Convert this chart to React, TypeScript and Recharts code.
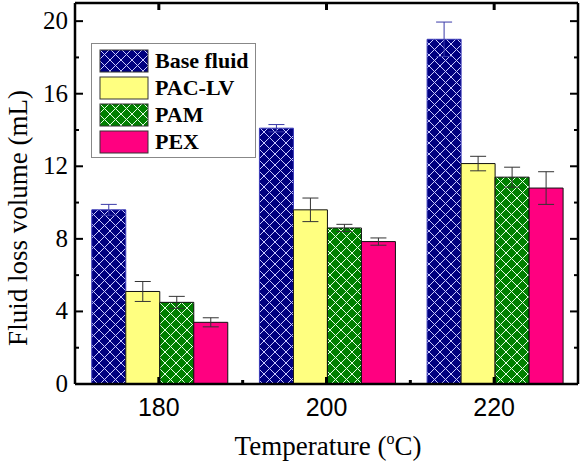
import { BarChart, Bar, Line, XAxis, YAxis, ErrorBar, Legend } from 'recharts';

const temperatures = ['180', '200', '220'];
const baseFluid = [9.6, 14.1, 19.0];
const baseFluidErr = [0.3, 0.2, 0.95];
const pacLv = [5.1, 9.6, 12.15];
const pacLvErr = [0.55, 0.65, 0.4];
const pam = [4.5, 8.6, 11.4];
const pamErr = [0.33, 0.2, 0.55];
const pex = [3.4, 7.85, 10.8];
const pexErr = [0.25, 0.2, 0.9];
const yTicks = [0, 2, 4, 6, 8, 10, 12, 14, 16, 18, 20];

const data = temperatures.map((t, i) => ({
  temp: t,
  base: baseFluid[i],
  baseErr: baseFluidErr[i],
  pac: pacLv[i],
  pacErr: pacLvErr[i],
  pam: pam[i],
  pamErr: pamErr[i],
  pex: pex[i],
  pexErr: pexErr[i],
}));

const SERIF = '"Liberation Serif", "Times New Roman", serif';
const SANS = '"Liberation Sans", Arial, sans-serif';

const series = [
  { key: 'base', name: 'Base fluid', fill: 'url(#hatchBlue)', stroke: '#3a3ab8', err: '#3a3aa8' },
  { key: 'pac', name: 'PAC-LV', fill: '#ffff80', stroke: '#111', err: '#333' },
  { key: 'pam', name: 'PAM', fill: 'url(#hatchGreen)', stroke: '#111', err: '#333' },
  { key: 'pex', name: 'PEX', fill: '#ff0080', stroke: '#111', err: '#333' },
];

// y ticks point inward, a label on every other one
const LeftTick = (props: any) => {
  const { x, y, payload } = props;
  const major = payload.value % 4 === 0;
  return (
    <g>
      <line x1={x} y1={y} x2={x + (major ? 8 : 4)} y2={y} stroke="#000" strokeWidth={2} />
      {major && (
        <text x={x - 7} y={y + 8} textAnchor="end" fontFamily={SERIF} fontSize={25} fill="#000">
          {payload.value}
        </text>
      )}
    </g>
  );
};

const RightTick = (props: any) => {
  const { x, y, payload } = props;
  const major = payload.value % 4 === 0;
  return <line x1={x} y1={y} x2={x - (major ? 8 : 4)} y2={y} stroke="#000" strokeWidth={2} />;
};

const BottomTick = (props: any) => {
  const { x, y, payload, index } = props;
  const off = payload.offset || 83.8;
  return (
    <g>
      <line x1={x} y1={y} x2={x} y2={y - 7} stroke="#000" strokeWidth={3} />
      {index < temperatures.length - 1 && (
        <line x1={x + off} y1={y} x2={x + off} y2={y - 4} stroke="#000" strokeWidth={3} />
      )}
      <text x={x} y={y + 32} textAnchor="middle" fontFamily={SANS} fontSize={25} fill="#000">
        {payload.value}
      </text>
    </g>
  );
};

const TopTick = (props: any) => {
  const { x, y } = props;
  return <line x1={x} y1={y} x2={x} y2={y + 7} stroke="#000" strokeWidth={3} />;
};

const LegendBox = () => (
  <div
    style={{
      width: 165,
      height: 115,
      border: '1px solid #888',
      background: '#fff',
      boxSizing: 'border-box',
      paddingTop: 3,
      paddingLeft: 7,
    }}
  >
    {series.map((s) => (
      <div key={s.key} style={{ display: 'flex', alignItems: 'center', height: 27 }}>
        <svg width={50} height={24} style={{ display: 'block' }}>
          <rect x={1} y={1} width={48} height={22} fill={s.fill} stroke="#333" strokeWidth={1} />
        </svg>
        <span
          style={{
            marginLeft: 6,
            fontFamily: SERIF,
            fontWeight: 'bold',
            fontSize: 22,
            color: '#000',
            lineHeight: '24px',
          }}
        >
          {s.name}
        </span>
      </div>
    ))}
  </div>
);

export default function App() {
  return (
    <div style={{ position: 'fixed', left: 0, top: 0, background: '#fff' }}>
      <BarChart
        width={583}
        height={463}
        data={data}
        margin={{ top: 2, right: 4, left: 0, bottom: 0 }}
        barCategoryGap="10%"
        barGap={0}
      >
        <defs>
          <pattern id="hatchBlue" patternUnits="userSpaceOnUse" width={11} height={11}>
            <rect width={11} height={11} fill="#000080" />
            <path d="M-1,-1 L12,12 M12,-1 L-1,12" stroke="#c8c8ff" strokeWidth={1} />
          </pattern>
          <pattern id="hatchGreen" patternUnits="userSpaceOnUse" width={11} height={11}>
            <rect width={11} height={11} fill="#008000" />
            <path d="M-1,-1 L12,12 M12,-1 L-1,12" stroke="#e4ffe4" strokeWidth={1} />
          </pattern>
        </defs>
        {series.map((s) => (
          <Bar
            key={s.key}
            dataKey={s.key}
            name={s.name}
            fill={s.fill}
            stroke={s.stroke}
            strokeWidth={1}
            isAnimationActive={false}
          >
            <ErrorBar dataKey={`${s.key}Err`} width={8} stroke={s.err} strokeWidth={1} direction="y" />
          </Bar>
        ))}
        {/* invisible series so the mirrored top/right axes get a domain */}
        <Line
          xAxisId="top"
          yAxisId="right"
          dataKey="base"
          stroke="none"
          dot={false}
          activeDot={false}
          legendType="none"
          isAnimationActive={false}
        />
        <XAxis
          dataKey="temp"
          height={79}
          tickSize={0}
          tickMargin={0}
          tickLine={false}
          axisLine={{ stroke: '#000', strokeWidth: 2.5 }}
          tick={<BottomTick />}
          interval={0}
          label={{
            content: () => (
              <text x={328} y={455} textAnchor="middle" fontFamily={SERIF} fontSize={27} fill="#000">
                Temperature (
                <tspan fontSize={16} dy={-11}>o</tspan>
                <tspan dy={11}>C)</tspan>
              </text>
            ),
          }}
        />
        <XAxis
          xAxisId="top"
          dataKey="temp"
          orientation="top"
          height={1}
          tickSize={0}
          tickMargin={0}
          tickLine={false}
          axisLine={{ stroke: '#000', strokeWidth: 2.5 }}
          tick={<TopTick />}
          interval={0}
        />
        <YAxis
          width={75}
          domain={[0, 21]}
          ticks={yTicks}
          interval={0}
          tickSize={0}
          tickMargin={0}
          tickLine={false}
          axisLine={{ stroke: '#000', strokeWidth: 2.5 }}
          tick={<LeftTick />}
          label={{
            content: () => (
              <text
                transform="translate(27 218) rotate(-90)"
                textAnchor="middle"
                fontFamily={SERIF}
                fontSize={27}
                fill="#000"
              >
                Fluid loss volume (mL)
              </text>
            ),
          }}
        />
        <YAxis
          yAxisId="right"
          orientation="right"
          width={1}
          domain={[0, 21]}
          ticks={yTicks}
          interval={0}
          tickSize={0}
          tickMargin={0}
          tickLine={false}
          axisLine={{ stroke: '#000', strokeWidth: 2.5 }}
          tick={<RightTick />}
        />
        <Legend
          layout="vertical"
          align="center"
          verticalAlign="middle"
          content={<LegendBox />}
          wrapperStyle={{ position: 'absolute', left: 91, top: 43, width: 165, height: 115 }}
        />
      </BarChart>
    </div>
  );
}
